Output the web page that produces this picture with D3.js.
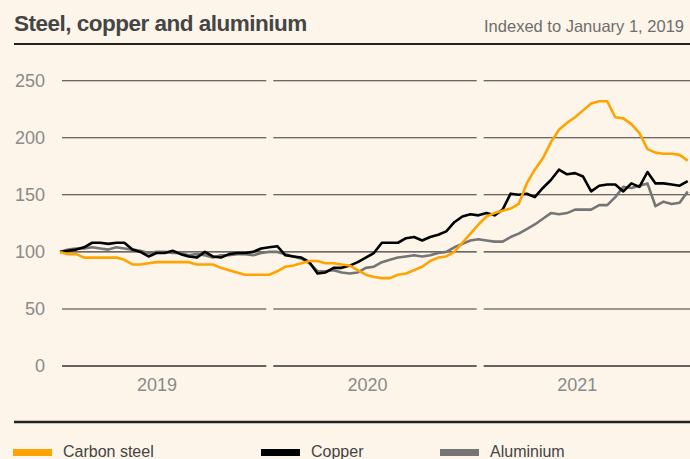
<!DOCTYPE html>
<html>
<head>
<meta charset="utf-8">
<script src="https://cdn.jsdelivr.net/npm/d3@7"></script>
<style>
  body { margin: 0; background: #fdf5e9; }
  svg { display: block; }
</style>
</head>
<body>
<div id="chart"></div>
<script>
// values, one point every two weeks from 1 Jan 2019
const startDate = new Date(2019, 0, 1);
const stepDays = 14;

const carbonSteel = [100, 98, 98, 95, 95, 95, 95, 95, 93, 89, 89, 90, 91, 91, 91, 91, 91, 89, 89, 89,
  86, 84, 82, 80, 80, 80, 80, 83, 87, 88, 90, 92, 92, 90, 90, 89, 88, 84, 80, 78,
  77, 77, 80, 81, 84, 87, 92, 95, 96, 100, 108, 116, 124, 131, 134, 136, 138, 142, 160, 172,
  182, 196, 207, 213, 218, 224, 230, 232, 232, 218, 217, 212, 204, 190, 187, 186, 186, 185, 180];

const copper = [100, 101, 102, 104, 108, 108, 107, 108, 108, 102, 100, 96, 99, 99, 101, 98, 96, 95, 100, 96,
  95, 98, 99, 99, 100, 103, 104, 105, 97, 96, 95, 91, 81, 82, 86, 86, 88, 91, 95, 99,
  108, 108, 108, 112, 113, 110, 113, 115, 118, 126, 131, 133, 132, 134, 132, 137, 151, 150, 151, 148,
  156, 163, 172, 168, 169, 166, 153, 158, 159, 159, 153, 160, 157, 170, 160, 160, 159, 158, 162];

const aluminium = [100, 102, 103, 103, 104, 103, 102, 104, 103, 102, 101, 99, 100, 100, 99, 99, 97, 98, 97, 95,
  97, 97, 98, 98, 97, 99, 100, 100, 98, 96, 94, 90, 83, 83, 84, 82, 81, 82, 86, 87,
  91, 93, 95, 96, 97, 96, 97, 99, 100, 104, 107, 110, 111, 110, 109, 109, 113, 116, 120, 124,
  129, 134, 133, 134, 137, 137, 137, 141, 141, 148, 157, 156, 158, 160, 140, 144, 142, 143, 153];

const years = [2019, 2020, 2021];
const yTicks = [0, 50, 100, 150, 200, 250];

const series = [
  { name: "Carbon steel", values: carbonSteel, color: "#ffa300" },
  { name: "Copper", values: copper, color: "#000000" },
  { name: "Aluminium", values: aluminium, color: "#757575" }
];

const width = 690, height = 459;

const svg = d3.select("#chart")
  .append("svg")
    .attr("width", width)
    .attr("height", height);

svg.append("rect")
  .attr("width", width)
  .attr("height", height)
  .attr("fill", "#fdf5e9");

const x = d3.scaleTime()
  .domain([new Date(2019, 0, 1), new Date(2022, 0, 1)])
  .range([60, 690]);

const y = d3.scaleLinear()
  .domain([0, 250])
  .range([366, 80.7]);

const dateAt = i => d3.timeDay.offset(startDate, i * stepDays);

// header
svg.append("text")
  .attr("x", 14)
  .attr("y", 30.5)
  .attr("font-family", "Liberation Sans, Arial, sans-serif")
  .attr("font-weight", "bold")
  .attr("font-size", 22.5)
  .attr("letter-spacing", -0.5)
  .attr("fill", "#454545")
  .text("Steel, copper and aluminium");

svg.append("text")
  .attr("x", 684)
  .attr("y", 32)
  .attr("text-anchor", "end")
  .attr("font-family", "Liberation Sans, Arial, sans-serif")
  .attr("font-size", 16.5)
  .attr("fill", "#6e6e6e")
  .text("Indexed to January 1, 2019");

svg.append("line")
  .attr("x1", 14).attr("x2", 690)
  .attr("y1", 44).attr("y2", 44)
  .attr("stroke", "#222")
  .attr("stroke-width", 2.2);

// gridlines, broken at each new year
const gap = 3.5;
years.forEach((yr, i) => {
  const x0 = x(new Date(yr, 0, 1)) + (i === 0 ? 2 : gap);
  const x1 = i === years.length - 1 ? width : x(new Date(yr + 1, 0, 1)) - gap;
  svg.append("g")
    .selectAll("line")
    .data(yTicks)
    .enter()
    .append("line")
      .attr("x1", x0)
      .attr("x2", x1)
      .attr("y1", d => y(d))
      .attr("y2", d => y(d))
      .attr("stroke", d => d === 0 ? "#333" : "#3a3a3a")
      .attr("stroke-width", d => d === 0 ? 1.6 : 1.1);
});

// y tick labels
svg.append("g")
  .selectAll("text")
  .data(yTicks)
  .enter()
  .append("text")
    .attr("x", 45)
    .attr("y", d => y(d))
    .attr("dy", "0.35em")
    .attr("text-anchor", "end")
    .attr("font-family", "Liberation Sans, Arial, sans-serif")
    .attr("font-size", 18)
    .attr("fill", "#8a8a8a")
    .text(d => d);

// year labels
svg.append("g")
  .selectAll("text")
  .data(years)
  .enter()
  .append("text")
    .attr("x", d => x(new Date(d, 6, 1)) - 7)
    .attr("y", 391)
    .attr("text-anchor", "middle")
    .attr("font-family", "Liberation Sans, Arial, sans-serif")
    .attr("font-size", 18)
    .attr("fill", "#8a8a8a")
    .text(d => d);

// lines: draw aluminium first, then copper, then steel on top
const line = d3.line()
  .x((d, i) => x(dateAt(i)))
  .y(d => y(d));

svg.append("g")
  .selectAll("path")
  .data([series[2], series[1], series[0]])
  .enter()
  .append("path")
    .attr("d", d => line(d.values))
    .attr("fill", "none")
    .attr("stroke", d => d.color)
    .attr("stroke-width", 2.6)
    .attr("stroke-linejoin", "round");

// bottom rule and legend
svg.append("line")
  .attr("x1", 14).attr("x2", 690)
  .attr("y1", 422).attr("y2", 422)
  .attr("stroke", "#222")
  .attr("stroke-width", 2.5);

const legendX = [13, 261, 440];
const legend = svg.append("g")
  .selectAll("g")
  .data(series)
  .enter()
  .append("g")
    .attr("transform", (d, i) => `translate(${legendX[i]}, 0)`);

legend.append("rect")
  .attr("x", 0)
  .attr("y", 449)
  .attr("width", 39)
  .attr("height", 7)
  .attr("fill", d => d.color);

legend.append("text")
  .attr("x", 50)
  .attr("y", 457)
  .attr("font-family", "Liberation Sans, Arial, sans-serif")
  .attr("font-size", 16)
  .attr("fill", "#444")
  .text(d => d.name);
</script>
</body>
</html>
